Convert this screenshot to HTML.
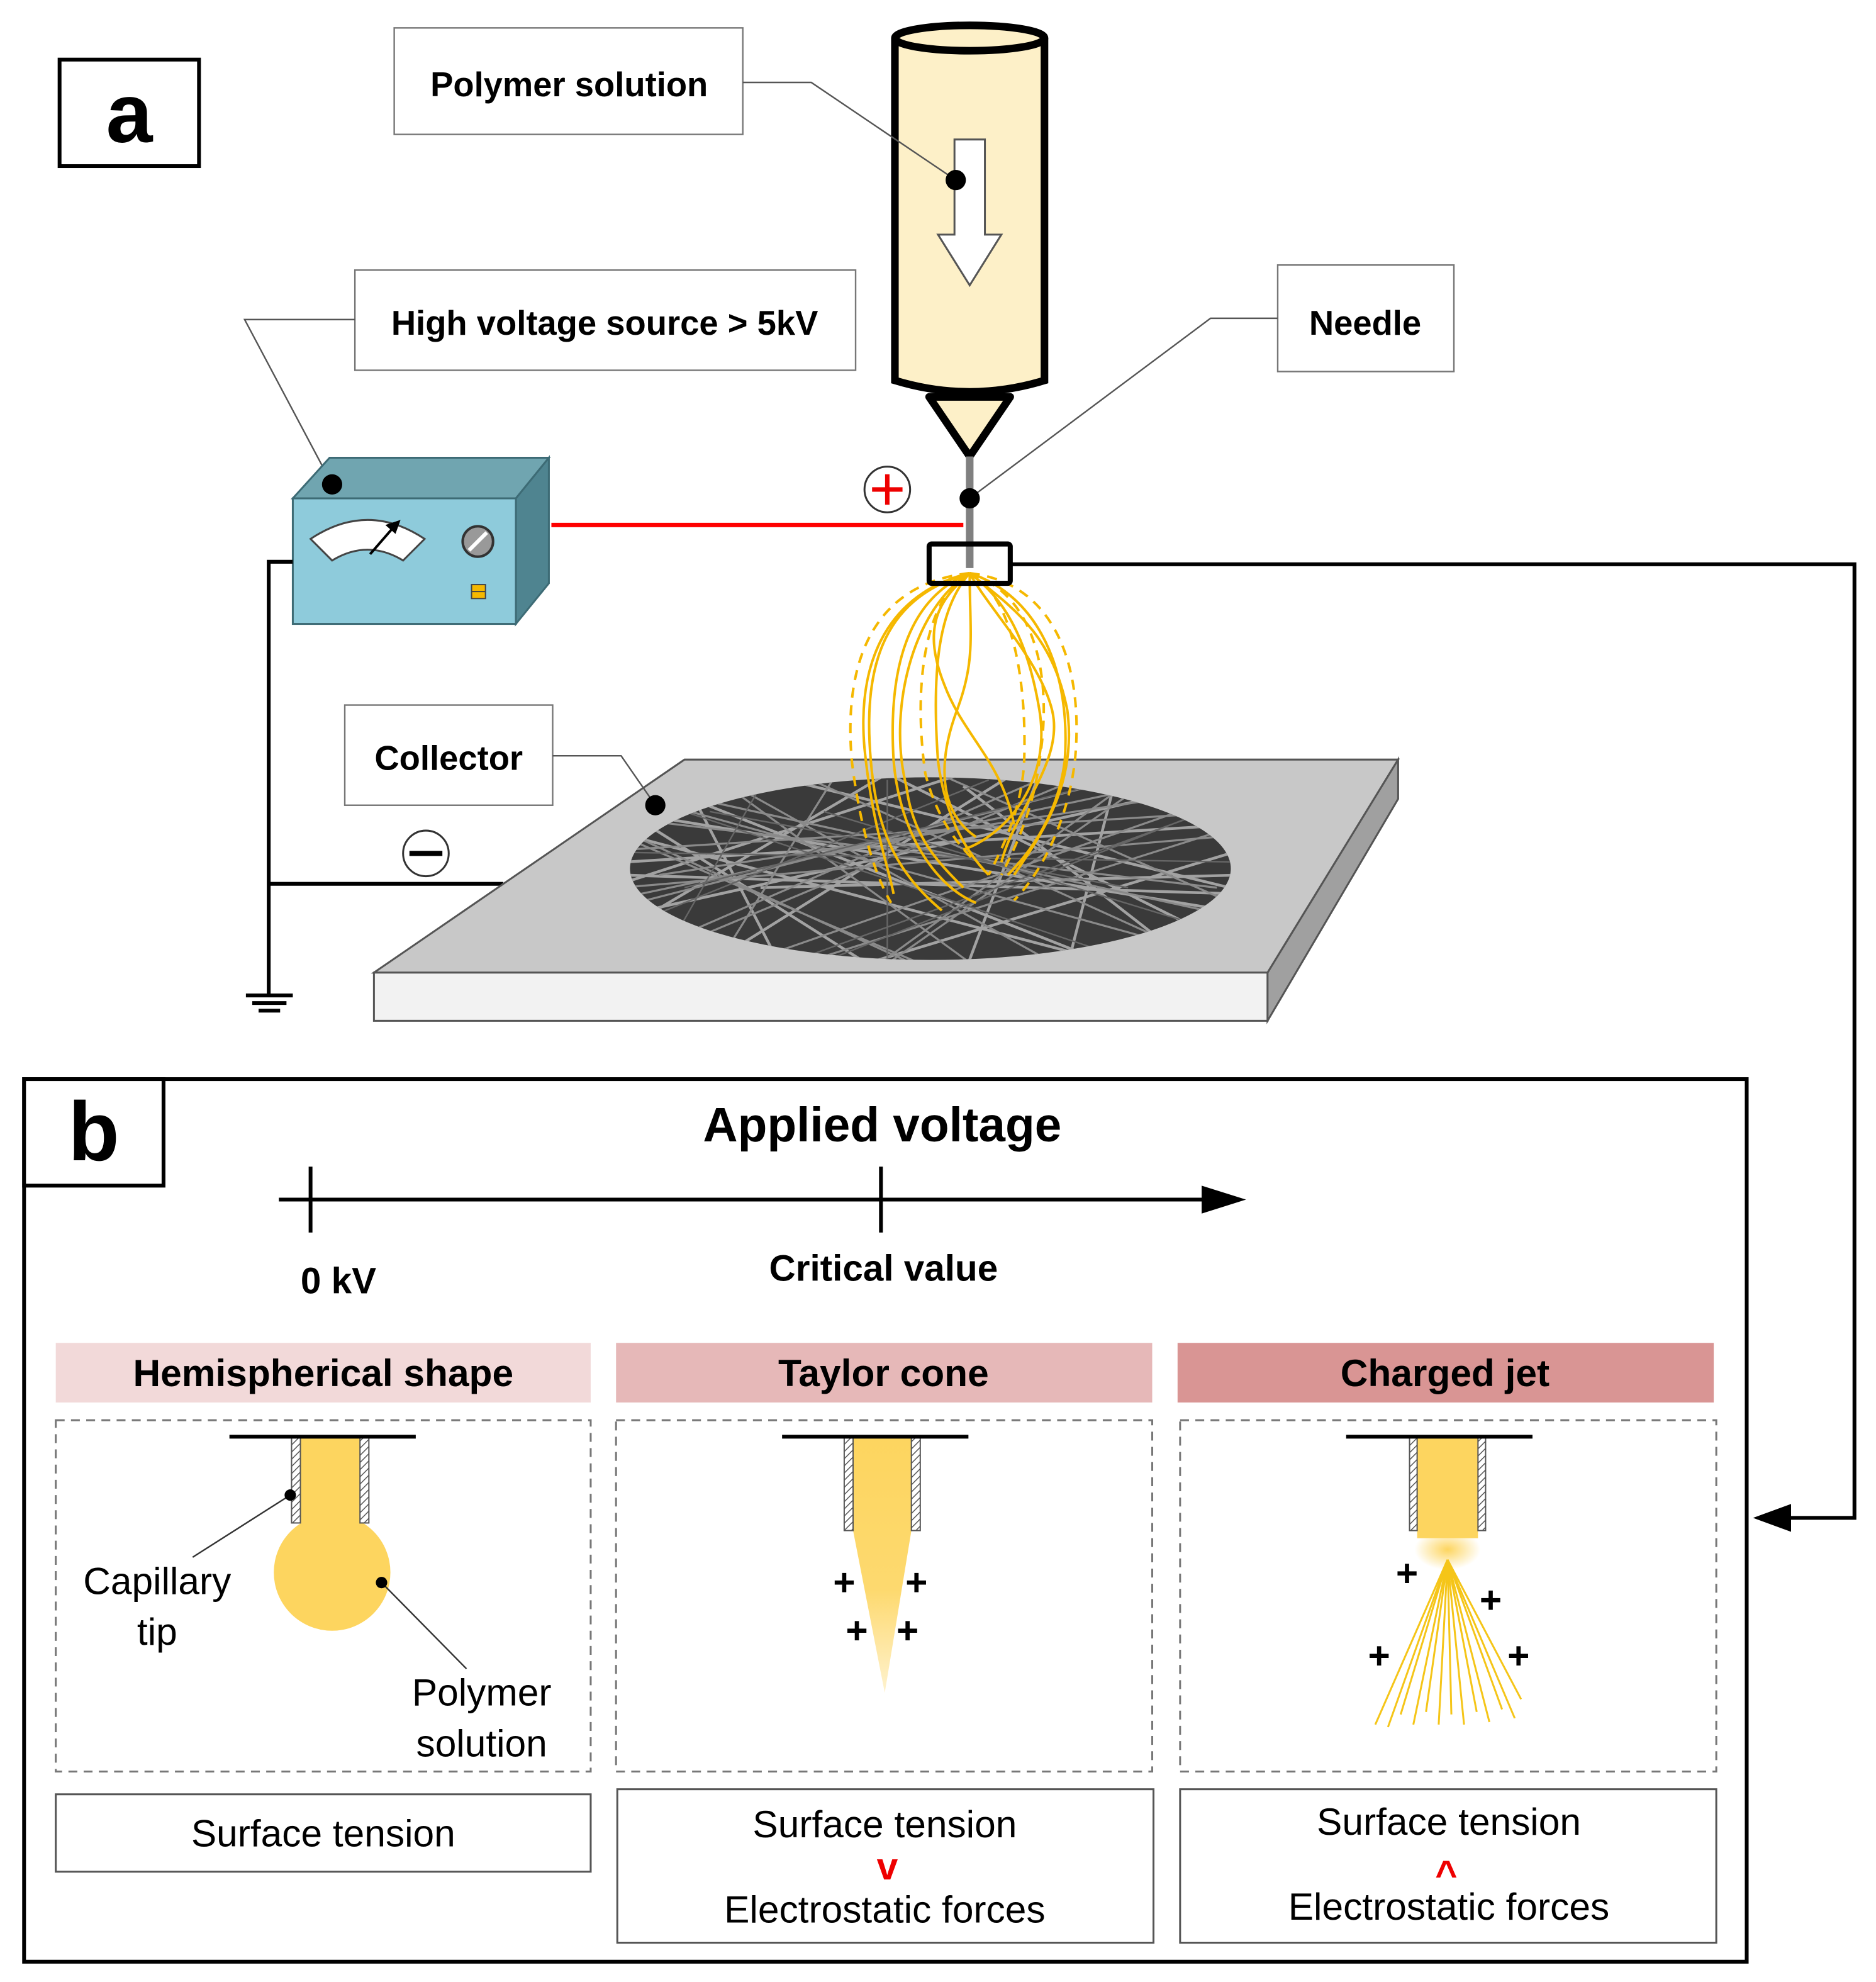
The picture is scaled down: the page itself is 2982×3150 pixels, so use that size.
<!DOCTYPE html>
<html><head><meta charset="utf-8"><style>
html,body{margin:0;padding:0;background:#fff}
svg{display:block}
text{font-family:"Liberation Sans",sans-serif}
</style></head><body>
<svg width="2982" height="3150" viewBox="0 0 1480 1563" preserveAspectRatio="none" xmlns="http://www.w3.org/2000/svg">
<defs>
<pattern id="hatch" width="4" height="4" patternUnits="userSpaceOnUse" patternTransform="rotate(45)">
<rect width="4" height="4" fill="#fff"/><line x1="0" y1="0" x2="0" y2="4" stroke="#555" stroke-width="1.5"/></pattern>
<clipPath id="ell"><ellipse cx="734" cy="685" rx="237" ry="72"/></clipPath>
<linearGradient id="cone" x1="0" y1="0" x2="0" y2="1"><stop offset="0" stop-color="#fdd55f"/><stop offset="0.6" stop-color="#fdd55f" stop-opacity="0.9"/><stop offset="1" stop-color="#fdd55f" stop-opacity="0.3"/></linearGradient>
<radialGradient id="glow" cx="0.5" cy="0.5" r="0.5"><stop offset="0" stop-color="#fdd55f"/><stop offset="1" stop-color="#fdd55f" stop-opacity="0"/></radialGradient>
</defs>

<rect x="47" y="47" width="110" height="84" fill="#fff" stroke="#000" stroke-width="3"/>
<text x="102" y="112" font-size="66" font-weight="bold" text-anchor="middle">a</text>

<rect x="311" y="22" width="275" height="84" fill="#fff" stroke="#777" stroke-width="1.2"/>
<text x="449" y="76" font-size="27" font-weight="bold" text-anchor="middle">Polymer solution</text>

<path d="M706,30 L706,300 Q765,318 824,300 L824,30" fill="#fdf0c8" stroke="#000" stroke-width="6"/>
<ellipse cx="765" cy="30" rx="59" ry="10" fill="#fdf0c8" stroke="#000" stroke-width="6"/>
<path d="M733,313 L797,313 L765,360 Z" fill="#fdf0c8" stroke="#000" stroke-width="6" stroke-linejoin="round"/>
<path d="M753,110 L777,110 L777,185 L790,185 L765,225 L740,185 L753,185 Z" fill="#fff" stroke="#555" stroke-width="1.5"/>
<polyline points="586,65 640,65 754,142" fill="none" stroke="#555" stroke-width="1.2"/>
<circle cx="754" cy="142" r="8" fill="#000"/>

<line x1="765" y1="360" x2="765" y2="448" stroke="#808080" stroke-width="6"/>
<rect x="1008" y="209" width="139" height="84" fill="#fff" stroke="#777" stroke-width="1.2"/>
<text x="1077" y="264" font-size="27" font-weight="bold" text-anchor="middle">Needle</text>
<polyline points="1008,251 955,251 765,393" fill="none" stroke="#555" stroke-width="1.2"/>
<circle cx="765" cy="393" r="8" fill="#000"/>

<rect x="280" y="213" width="395" height="79" fill="#fff" stroke="#777" stroke-width="1.2"/>
<text x="477" y="264" font-size="27" font-weight="bold" text-anchor="middle">High voltage source &gt; 5kV</text>
<polyline points="280,252 193,252 262,382" fill="none" stroke="#555" stroke-width="1.2"/>

<polygon points="231,393 260,361 433,361 407,393" fill="#70a5b0" stroke="#3d6b75" stroke-width="1.5"/>
<polygon points="407,393 433,361 433,460 407,492" fill="#4f8490" stroke="#3d6b75" stroke-width="1.5"/>
<rect x="231" y="393" width="176" height="99" fill="#8ecbdb" stroke="#3d6b75" stroke-width="1.5"/>
<circle cx="262" cy="382" r="8" fill="#000"/>
<path d="M245,425 Q290,395 335,425 L318,442 Q290,425 262,442 Z" fill="#fff" stroke="#444" stroke-width="1.5"/>
<line x1="292" y1="437" x2="312" y2="414" stroke="#000" stroke-width="2"/>
<polygon points="316,410 304,414 312,421" fill="#000"/>
<circle cx="377" cy="427" r="12" fill="#999" stroke="#333" stroke-width="2"/>
<line x1="370" y1="434" x2="384" y2="420" stroke="#fff" stroke-width="3"/>
<rect x="372" y="461" width="11" height="11" fill="#f5b800" stroke="#444" stroke-width="1"/>
<line x1="372" y1="466.5" x2="383" y2="466.5" stroke="#444" stroke-width="1"/>

<line x1="435" y1="414" x2="760" y2="414" stroke="#f00" stroke-width="3.5"/>
<circle cx="700" cy="386" r="18" fill="#fff" stroke="#333" stroke-width="1.5"/>
<line x1="688" y1="386" x2="712" y2="386" stroke="#e00" stroke-width="3.5"/>
<line x1="700" y1="374" x2="700" y2="398" stroke="#e00" stroke-width="3.5"/>

<polyline points="231,443 212,443 212,785" fill="none" stroke="#000" stroke-width="3"/>
<line x1="212" y1="697" x2="397" y2="697" stroke="#000" stroke-width="3"/>
<line x1="194" y1="785" x2="231" y2="785" stroke="#000" stroke-width="3"/>
<line x1="199" y1="791" x2="226" y2="791" stroke="#000" stroke-width="3"/>
<line x1="204" y1="797" x2="221" y2="797" stroke="#000" stroke-width="3"/>
<circle cx="336" cy="673" r="18" fill="#fff" stroke="#333" stroke-width="1.5"/>
<line x1="323" y1="673" x2="349" y2="673" stroke="#000" stroke-width="4"/>

<polygon points="295,767 540,599 1103,599 1000,767" fill="#c8c8c8" stroke="#555" stroke-width="1.5"/>
<rect x="295" y="767" width="705" height="38" fill="#f2f2f2" stroke="#555" stroke-width="1.5"/>
<polygon points="1000,767 1103,599 1103,630 1000,805" fill="#a0a0a0" stroke="#555" stroke-width="1.5"/>
<ellipse cx="734" cy="685" rx="237" ry="72" fill="#3a3a3a"/>
<g clip-path="url(#ell)" fill="none">
<g stroke="#b5b5b5" stroke-width="2.2" opacity="0.85">
<path d="M490,640 L980,720 M490,680 L980,650 M500,720 L950,620 M520,620 L900,770 M560,760 L800,610 M600,610 L970,700 M480,700 L760,610 M650,770 L980,670 M500,660 L880,760 M700,610 L960,740 M480,740 L700,610 M540,615 L620,770 M820,610 L760,770 M880,615 L840,770 M600,700 L980,690 M490,690 L980,705 M510,650 L700,770 M760,620 L940,760"/>
</g>
<g stroke="#8a8a8a" stroke-width="1.6">
<path d="M495,670 L975,640 M505,705 L930,615 M550,630 L960,720 M600,755 L930,640 M520,745 L820,615 M640,615 L960,760 M700,760 L900,620 M580,620 L850,770 M480,655 L750,770 M660,610 L560,770 M490,625 L980,760 M490,715 L900,610 M520,690 L980,620 M600,770 L980,650 M480,650 L720,760 M740,610 L990,720 M500,760 L860,610 M560,610 L780,770 M900,610 L680,770 M490,700 L960,660 M490,645 L960,700"/>
</g>
<g stroke="#666" stroke-width="1.2">
<path d="M480,672 L990,680 M510,630 L930,770 M600,620 L520,760 M950,640 L620,770 M700,615 L700,770 M780,615 L520,720 M620,760 L980,630 M540,700 L940,600 M560,640 L890,700 M650,640 L980,740"/>
</g>
</g>
<rect x="272" y="556" width="164" height="79" fill="#fff" stroke="#777" stroke-width="1.2"/>
<text x="354" y="607" font-size="27" font-weight="bold" text-anchor="middle">Collector</text>
<polyline points="436,596 490,596 517,635" fill="none" stroke="#555" stroke-width="1.2"/>
<circle cx="517" cy="635" r="8" fill="#000"/>

<g fill="none" stroke="#f5b800" stroke-width="2">
<path d="M765,452 C700,470 680,520 687,600 C692,660 710,690 743,718"/>
<path d="M765,452 C720,470 700,520 705,600 C710,660 740,700 770,712"/>
<path d="M765,452 C740,480 735,530 740,600 C745,640 760,670 780,690"/>
<path d="M765,452 C765,500 770,520 755,560 C740,600 740,640 770,660"/>
<path d="M765,452 C780,480 820,520 830,560 C840,600 800,640 790,680"/>
<path d="M765,452 C800,480 830,500 842,560 C850,620 820,660 800,690"/>
<path d="M765,452 C790,470 810,500 820,560 C830,620 790,660 760,670"/>
<path d="M765,452 C720,480 700,560 715,620 C720,660 740,680 760,700"/>
<path d="M765,452 C745,470 725,490 745,540 C760,580 790,600 800,650"/>
<path d="M765,452 C710,465 675,510 682,590 C688,650 700,680 705,705"/>
<path d="M765,452 C820,470 845,530 840,600 C835,640 815,670 795,690"/>
</g>
<g fill="none" stroke="#f5b800" stroke-width="2" stroke-dasharray="8,6">
<path d="M765,452 C690,460 665,520 672,600 C678,650 690,690 703,712"/>
<path d="M765,452 C835,460 855,530 848,600 C842,650 820,690 800,710"/>
<path d="M765,452 C730,470 720,540 730,610 C740,650 760,670 770,680"/>
<path d="M765,452 C800,470 810,540 808,600 C806,640 790,670 780,690"/>
<path d="M765,452 C820,470 830,540 820,600 C815,640 800,670 790,690"/>
</g>
<rect x="733" y="429" width="64" height="31" fill="none" stroke="#000" stroke-width="4" rx="2"/>

<polyline points="797,445 1463,445 1463,1197 1405,1197" fill="none" stroke="#000" stroke-width="3"/>
<polygon points="1383,1197 1413,1186 1413,1208" fill="#000"/>

<rect x="19" y="851" width="1359" height="696" fill="none" stroke="#000" stroke-width="3"/>
<rect x="19" y="851" width="110" height="84" fill="#fff" stroke="#000" stroke-width="3"/>
<text x="74" y="915" font-size="66" font-weight="bold" text-anchor="middle">b</text>
<text x="696" y="900" font-size="38" font-weight="bold" text-anchor="middle">Applied voltage</text>
<line x1="220" y1="946" x2="955" y2="946" stroke="#000" stroke-width="3"/>
<polygon points="983,946 948,935 948,957" fill="#000"/>
<line x1="245" y1="920" x2="245" y2="972" stroke="#000" stroke-width="3"/>
<line x1="695" y1="920" x2="695" y2="972" stroke="#000" stroke-width="3"/>
<text x="267" y="1020" font-size="29" font-weight="bold" text-anchor="middle">0 kV</text>
<text x="697" y="1010" font-size="29" font-weight="bold" text-anchor="middle">Critical value</text>

<rect x="44" y="1059" width="422" height="47" fill="#f2d9d9"/>
<rect x="486" y="1059" width="423" height="47" fill="#e6b8b8"/>
<rect x="929" y="1059" width="423" height="47" fill="#d99594"/>
<text x="255" y="1093" font-size="30" font-weight="bold" text-anchor="middle">Hemispherical shape</text>
<text x="697" y="1093" font-size="30" font-weight="bold" text-anchor="middle">Taylor cone</text>
<text x="1140" y="1093" font-size="30" font-weight="bold" text-anchor="middle">Charged jet</text>

<g fill="none" stroke="#777" stroke-width="1.5" stroke-dasharray="7,5">
<rect x="44" y="1120" width="422" height="277"/>
<rect x="486" y="1120" width="423" height="277"/>
<rect x="931" y="1120" width="423" height="277"/>
</g>
<g fill="#fff" stroke="#555" stroke-width="1.5">
<rect x="44" y="1415" width="422" height="61"/>
<rect x="487" y="1411" width="423" height="121"/>
<rect x="931" y="1411" width="423" height="121"/>
</g>
<text x="255" y="1456" font-size="30" text-anchor="middle">Surface tension</text>
<text x="698" y="1449" font-size="30" text-anchor="middle">Surface tension</text>
<text x="700" y="1482" font-size="30" font-weight="bold" fill="#e00" text-anchor="middle">v</text>
<text x="698" y="1516" font-size="30" text-anchor="middle">Electrostatic forces</text>
<text x="1143" y="1447" font-size="30" text-anchor="middle">Surface tension</text>
<text x="1141" y="1488" font-size="30" font-weight="bold" fill="#e00" text-anchor="middle">^</text>
<text x="1143" y="1514" font-size="30" text-anchor="middle">Electrostatic forces</text>

<rect x="237" y="1133" width="47" height="70" fill="#fdd55f"/>
<circle cx="262" cy="1240" r="46" fill="#fdd55f"/>
<rect x="230" y="1133" width="7" height="68" fill="url(#hatch)" stroke="#555" stroke-width="1"/>
<rect x="284" y="1133" width="7" height="68" fill="url(#hatch)" stroke="#555" stroke-width="1"/>
<line x1="181" y1="1133" x2="328" y2="1133" stroke="#000" stroke-width="3"/>
<line x1="229" y1="1179" x2="152" y2="1228" stroke="#333" stroke-width="1.2"/>
<circle cx="229" cy="1179" r="4.5" fill="#000"/>
<line x1="301" y1="1248" x2="368" y2="1316" stroke="#333" stroke-width="1.2"/>
<circle cx="301" cy="1248" r="4.5" fill="#000"/>
<text x="124" y="1257" font-size="30" text-anchor="middle">Capillary</text>
<text x="124" y="1297" font-size="30" text-anchor="middle">tip</text>
<text x="380" y="1345" font-size="30" text-anchor="middle">Polymer</text>
<text x="380" y="1385" font-size="30" text-anchor="middle">solution</text>

<path d="M673,1133 L719,1133 L719,1207 L698,1335 L673,1207 Z" fill="url(#cone)"/>
<rect x="666" y="1133" width="7" height="74" fill="url(#hatch)" stroke="#555" stroke-width="1"/>
<rect x="719" y="1133" width="7" height="74" fill="url(#hatch)" stroke="#555" stroke-width="1"/>
<line x1="617" y1="1133" x2="764" y2="1133" stroke="#000" stroke-width="3"/>
<g font-size="30" font-weight="bold" text-anchor="middle">
<text x="666" y="1258">+</text><text x="723" y="1258">+</text>
<text x="676" y="1296">+</text><text x="716" y="1296">+</text>
</g>

<rect x="1118" y="1133" width="48" height="80" fill="#fdd55f"/>
<ellipse cx="1142" cy="1222" rx="26" ry="16" fill="url(#glow)"/>
<g stroke="#f5c518" stroke-width="1.5">
<line x1="1142" y1="1230" x2="1085" y2="1360"/><line x1="1142" y1="1230" x2="1095" y2="1362"/>
<line x1="1142" y1="1230" x2="1105" y2="1352"/><line x1="1142" y1="1230" x2="1115" y2="1360"/>
<line x1="1142" y1="1230" x2="1125" y2="1350"/><line x1="1142" y1="1230" x2="1135" y2="1360"/>
<line x1="1142" y1="1230" x2="1145" y2="1352"/><line x1="1142" y1="1230" x2="1155" y2="1360"/>
<line x1="1142" y1="1230" x2="1165" y2="1350"/><line x1="1142" y1="1230" x2="1175" y2="1358"/>
<line x1="1142" y1="1230" x2="1185" y2="1348"/><line x1="1142" y1="1230" x2="1195" y2="1355"/>
<line x1="1142" y1="1230" x2="1200" y2="1340"/>
</g>
<rect x="1112" y="1133" width="6" height="74" fill="url(#hatch)" stroke="#555" stroke-width="1"/>
<rect x="1166" y="1133" width="6" height="74" fill="url(#hatch)" stroke="#555" stroke-width="1"/>
<line x1="1062" y1="1133" x2="1209" y2="1133" stroke="#000" stroke-width="3"/>
<g font-size="30" font-weight="bold" text-anchor="middle">
<text x="1110" y="1251">+</text><text x="1176" y="1272">+</text>
<text x="1088" y="1316">+</text><text x="1198" y="1316">+</text>
</g>
</svg>
</body></html>
